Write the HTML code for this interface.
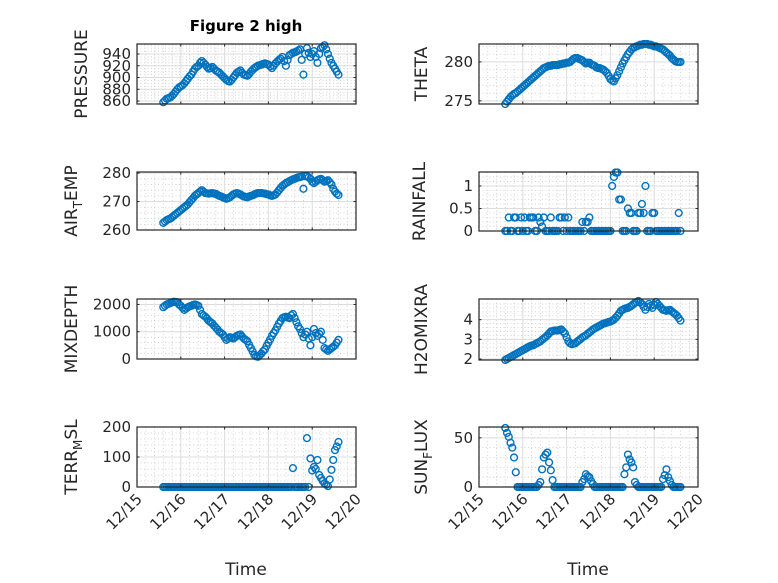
<!DOCTYPE html>
<html><head><meta charset="utf-8"><style>
html,body{margin:0;padding:0;background:#fff;}
svg{display:block;font-family:"DejaVu Sans","Liberation Sans",sans-serif;}
</style></head><body>
<svg id="fig" width="778" height="583" viewBox="0 0 778 583" xmlns="http://www.w3.org/2000/svg">
<rect x="0" y="0" width="778" height="583" fill="#fff"/>
<text x="246" y="31" font-size="15" font-weight="bold" text-anchor="middle" fill="#000">Figure 2 high</text>
<text x="246" y="575" font-size="17" text-anchor="middle" fill="#262626">Time</text>
<text x="588" y="575" font-size="17" text-anchor="middle" fill="#262626">Time</text>
</svg>
<script>
const times = [0.60,0.64,0.68,0.72,0.76,0.80,0.84,0.88,0.92,0.96,
1.00,1.04,1.08,1.12,1.16,1.20,1.24,1.28,1.32,1.36,
1.40,1.44,1.48,1.52,1.56,1.60,1.64,1.68,1.72,1.76,
1.80,1.84,1.88,1.92,1.96,2.00,2.04,2.08,2.12,2.16,
2.20,2.24,2.28,2.32,2.36,2.40,2.44,2.48,2.52,2.56,
2.60,2.64,2.68,2.72,2.76,2.80,2.84,2.88,2.92,2.96,
3.00,3.04,3.08,3.12,3.16,3.20,3.24,3.28,3.32,3.36,
3.40,3.44,3.48,3.52,3.56,3.60,3.64,3.68,3.72,3.76,
3.80,3.84,3.88,3.92,3.96,4.00,4.04,4.08,4.12,4.16,
4.20,4.24,4.28,4.32,4.36,4.40,4.44,4.48,4.52,4.56,
4.60];
const xTickLabels = ["12/15","12/16","12/17","12/18","12/19","12/20"];
const pressure = [858,861,864,865,866,869,872,876,880,883,
885,887,890,894,898,902,905,910,915,918,
920,925,928,925,922,918,915,916,918,915,
912,910,908,905,902,899,896,894,893,896,
900,904,908,910,912,908,905,904,903,906,
910,913,916,918,920,921,922,923,924,923,
922,919,916,920,924,927,930,932,935,928,
920,930,938,940,942,943,944,946,948,930,
905,940,950,942,935,940,945,935,925,940,
950,952,955,948,940,932,925,920,915,910,
905];
const theta = [274.6,274.9,275.2,275.5,275.7,275.9,276.0,276.2,276.4,276.6,
276.8,277.0,277.2,277.4,277.6,277.8,278.0,278.2,278.4,278.6,
278.8,279.0,279.2,279.3,279.4,279.5,279.5,279.6,279.6,279.6,
279.6,279.7,279.7,279.8,279.8,279.9,279.9,280.0,280.2,280.4,
280.5,280.5,280.4,280.3,280.2,280.0,279.8,279.9,279.9,279.7,
279.6,279.5,279.3,279.2,279.2,279.1,279.0,278.8,278.6,278.2,
277.8,277.6,277.5,277.9,278.3,278.8,279.3,279.8,280.2,280.6,
281.0,281.3,281.6,281.8,281.9,282.0,282.1,282.2,282.2,282.3,
282.3,282.3,282.2,282.2,282.1,282.0,282.0,281.9,281.8,281.7,
281.6,281.4,281.2,281.0,280.8,280.5,280.3,280.1,280.0,280.0,
280.0];
const airTemp = [262.5,263.0,263.5,263.8,264.0,264.5,265.0,265.5,266.0,266.5,
267.0,267.5,268.0,268.5,269.0,269.8,270.5,271.2,272.0,272.5,
273.0,273.5,274.0,273.5,273.0,272.9,272.8,272.9,273.0,272.8,
272.7,272.3,272.0,271.8,271.5,271.2,271.0,271.2,271.5,272.0,
272.5,272.8,273.0,272.8,272.5,272.1,271.8,271.6,271.5,271.8,
272.0,272.2,272.5,272.8,273.0,273.0,273.0,272.9,272.8,272.6,
272.5,272.2,272.0,272.2,272.5,273.2,274.0,274.8,275.5,276.0,
276.5,276.8,277.2,277.5,277.8,278.0,278.3,278.5,278.6,278.8,
274.5,278.9,279.0,278.5,278.0,277.0,276.5,277.0,277.5,277.8,
278.0,277.5,277.0,277.2,277.5,276.8,276.0,274.5,273.5,272.8,
272.3];
const rainfall = [0,0,0.3,0,0,0.3,0.3,0,0,0.3,
0,0.3,0,0,0.3,0.3,0.3,0,0,0.3,
0.2,0.1,0.3,0,0,0,0.3,0,0,0,
0,0.3,0.3,0,0.3,0,0.3,0,0,0,
0,0,0,0,0.2,0,0.2,0.2,0.3,0,
0,0,0,0,0,0,0,0,0,0,
0,1.0,1.2,1.3,1.3,0.7,0.7,0,0,0,
0.5,0.4,0.4,0,0,0,0.4,0.4,0.6,0.4,
1.0,0,0,0,0.4,0.4,0,0,0,0,
0,0,0,0,0,0,0,0,0,0.4,
0];
const mixDepth = [1900,1950,2000,2020,2050,2080,2100,2090,2080,2000,
1950,1880,1800,1850,1900,1930,1950,1980,2000,1980,
1950,1800,1650,1600,1550,1480,1400,1350,1300,1220,
1150,1080,1000,950,900,800,700,750,800,780,
750,800,850,880,900,820,750,700,650,520,
400,280,150,100,80,140,200,280,350,480,
600,720,850,950,1050,1180,1300,1400,1500,1530,
1550,1520,1500,1600,1650,1500,1350,1200,1100,950,
800,900,1000,750,500,800,1100,950,850,920,
1000,700,400,350,300,350,400,450,500,600,
700];
const h2oMix = [1.95,2.0,2.05,2.1,2.15,2.2,2.25,2.3,2.35,2.4,
2.45,2.5,2.55,2.6,2.65,2.68,2.7,2.75,2.8,2.85,
2.9,2.98,3.05,3.12,3.2,3.3,3.4,3.42,3.45,3.45,
3.45,3.48,3.5,3.4,3.3,3.1,2.9,2.8,2.75,2.78,
2.8,2.88,2.95,3.02,3.1,3.15,3.2,3.28,3.35,3.42,
3.5,3.55,3.6,3.65,3.7,3.75,3.8,3.82,3.85,3.88,
3.9,3.95,4.0,4.1,4.2,4.32,4.45,4.5,4.55,4.58,
4.6,4.65,4.7,4.78,4.85,4.9,4.95,4.88,4.8,4.65,
4.5,4.65,4.8,4.7,4.6,4.75,4.9,4.8,4.7,4.6,
4.5,4.48,4.45,4.48,4.5,4.42,4.35,4.28,4.2,4.08,
3.95];
const terrMsl = [0,0,0,0,0,0,0,0,0,0,
0,0,0,0,0,0,0,0,0,0,
0,0,0,0,0,0,0,0,0,0,
0,0,0,0,0,0,0,0,0,0,
0,0,0,0,0,0,0,0,0,0,
0,0,0,0,0,0,0,0,0,0,
0,0,0,0,0,0,0,0,0,0,
0,0,0,0,63,0,0,0,0,0,
0,0,163,0,95,55,67,60,90,40,
30,20,12,8,3,25,57,90,123,135,
150];
const sunFlux = [60,55,51,45,40,30,15,0,0,0,
0,0,0,0,0,0,0,0,0,2,
5,18,30,33,35,25,17,7,0,0,
0,0,0,0,0,0,0,0,0,0,
0,0,0,0,5,8,13,11,10,6,
3,0,0,0,0,0,0,0,0,0,
0,0,0,0,0,0,0,0,13,20,
33,28,25,20,5,2,0,0,0,0,
0,0,0,0,0,0,0,0,0,0,
8,12,18,10,6,2,0,0,0,0,
0];
const pressureTicks = [860,880,900,920,940];
const thetaTicks = [275,280];
const airTicks = [260,270,280];
const rainTicks = [0,0.5,1];
const rainTickLabels = ["0","0.5","1"];
const mixTicks = [0,1000,2000];
const h2oTicks = [2,3,4];
const terrTicks = [0,100,200];
const sunTicks = [0,50];

const NS = "http://www.w3.org/2000/svg";
const svg = document.getElementById("fig");
function mk(tag, attrs, parent){
  const e = document.createElementNS(NS, tag);
  for (const k in attrs) e.setAttribute(k, attrs[k]);
  (parent||svg).appendChild(e);
  return e;
}
const panels = [
  {key:"pressure", data:pressure, ticks:pressureTicks, lim:[855,957], L:137, T:44, H:60, label:"PRESSURE", lx:87, minor:4},
  {key:"theta", data:theta, ticks:thetaTicks, lim:[274.6,282.3], L:479, T:44, H:60, label:"THETA", lx:427, minor:5},
  {key:"air-temp", data:airTemp, ticks:airTicks, lim:[260,280.4], L:137, T:172, H:58, label:"AIR_TEMP", lx:77, minor:5},
  {key:"rainfall", data:rainfall, ticks:rainTicks, tickLabels:rainTickLabels, lim:[0,1.31], L:479, T:172, H:59, label:"RAINFALL", lx:425, minor:5},
  {key:"mixdepth", data:mixDepth, ticks:mixTicks, lim:[0,2200], L:137, T:299, H:60, label:"MIXDEPTH", lx:77, minor:5},
  {key:"h2omixra", data:h2oMix, ticks:h2oTicks, lim:[1.95,5.05], L:479, T:299, H:61, label:"H2OMIXRA", lx:427, minor:5},
  {key:"terr-msl", data:terrMsl, ticks:terrTicks, lim:[0,200], L:137, T:427, H:60, label:"TERR_MSL", lx:77, minor:5, xlabels:true},
  {key:"sun-flux", data:sunFlux, ticks:sunTicks, lim:[0,61], L:479, T:427, H:60, label:"SUN_FLUX", lx:427, minor:5, xlabels:true}
];
const W = 219, XMIN = 0, XMAX = 5;
panels.forEach(p=>{
  const g = mk("g", {});
  
  
  const xs = t => p.L + (t - XMIN) / (XMAX - XMIN) * W;
  const ys = v => p.T + p.H - (v - p.lim[0]) / (p.lim[1] - p.lim[0]) * p.H;
  mk("rect", {x:p.L, y:p.T, width:W, height:p.H, fill:"#fff"}, g);
  for (let d = 0; d < 5; d++) for (let k = 1; k < 5; k++) {
    const x = xs(d + k/5);
    mk("line", {x1:x, x2:x, y1:p.T, y2:p.T+p.H, stroke:"#c8c8c8", "stroke-width":0.8, "stroke-dasharray":"1 2.5"}, g);
  }
  const tk = p.ticks, step = tk[1]-tk[0], ms = step/p.minor;
  for (let v = tk[0] - step; v <= tk[tk.length-1] + step; v += ms) {
    if (v < p.lim[0] || v > p.lim[1]) continue;
    const y = ys(v);
    mk("line", {x1:p.L, x2:p.L+W, y1:y, y2:y, stroke:"#c8c8c8", "stroke-width":0.8, "stroke-dasharray":"1 2.5"}, g);
  }
  for (let d = 0; d <= 5; d++) {
    const x = xs(d);
    mk("line", {x1:x, x2:x, y1:p.T, y2:p.T+p.H, stroke:"#dcdcdc", "stroke-width":1}, g);
  }
  tk.forEach((v,i)=>{
    const y = ys(v);
    mk("line", {x1:p.L, x2:p.L+W, y1:y, y2:y, stroke:"#dcdcdc", "stroke-width":1}, g);
  });
  times.forEach((t,i)=>{
    const c = mk("circle", {cx:xs(t), cy:ys(p.data[i]), r:3.4, fill:"none", stroke:"#0072BD", "stroke-width":1.4}, g);
    
    
  });
  mk("rect", {x:p.L, y:p.T, width:W, height:p.H, fill:"none", stroke:"#262626", "stroke-width":1.2}, g);
  for (let d = 0; d <= 5; d++) {
    const x = xs(d);
    mk("line", {x1:x, x2:x, y1:p.T+p.H, y2:p.T+p.H-2.5, stroke:"#262626", "stroke-width":1}, g);
    mk("line", {x1:x, x2:x, y1:p.T, y2:p.T+2.5, stroke:"#262626", "stroke-width":1}, g);
    if (p.xlabels) {
      const tx = mk("text", {x:0, y:0, "font-size":15, fill:"#262626", "text-anchor":"end",
        transform:`translate(${x+6},${p.T+p.H+13}) rotate(-45)`}, g);
      tx.textContent = xTickLabels[d];
      
      
    }
  }
  tk.forEach((v,i)=>{
    const y = ys(v);
    mk("line", {x1:p.L, x2:p.L+2.5, y1:y, y2:y, stroke:"#262626", "stroke-width":1}, g);
    mk("line", {x1:p.L+W, x2:p.L+W-2.5, y1:y, y2:y, stroke:"#262626", "stroke-width":1}, g);
    const tx = mk("text", {x:p.L-6, y:y+5, "font-size":15, fill:"#262626", "text-anchor":"end"}, g);
    tx.textContent = p.tickLabels ? p.tickLabels[i] : String(v);
    
    
  });
  const cy = p.T + p.H/2;
  const lab = mk("text", {x:0, y:0, "font-size":17, fill:"#262626", "text-anchor":"middle",
    transform:`translate(${p.lx},${cy}) rotate(-90)`}, g);
  
  
  const parts = p.label.split("_");
  if (parts.length === 2) {
    const a = parts[0], b = parts[1];
    const t1 = mk("tspan", {}, lab); t1.textContent = a;
    const t2 = mk("tspan", {dy:5, "font-size":12}, lab); t2.textContent = b[0];
    const t3 = mk("tspan", {dy:-5}, lab); t3.textContent = b.slice(1);
  } else lab.textContent = p.label;
});
</script>
</body></html>
